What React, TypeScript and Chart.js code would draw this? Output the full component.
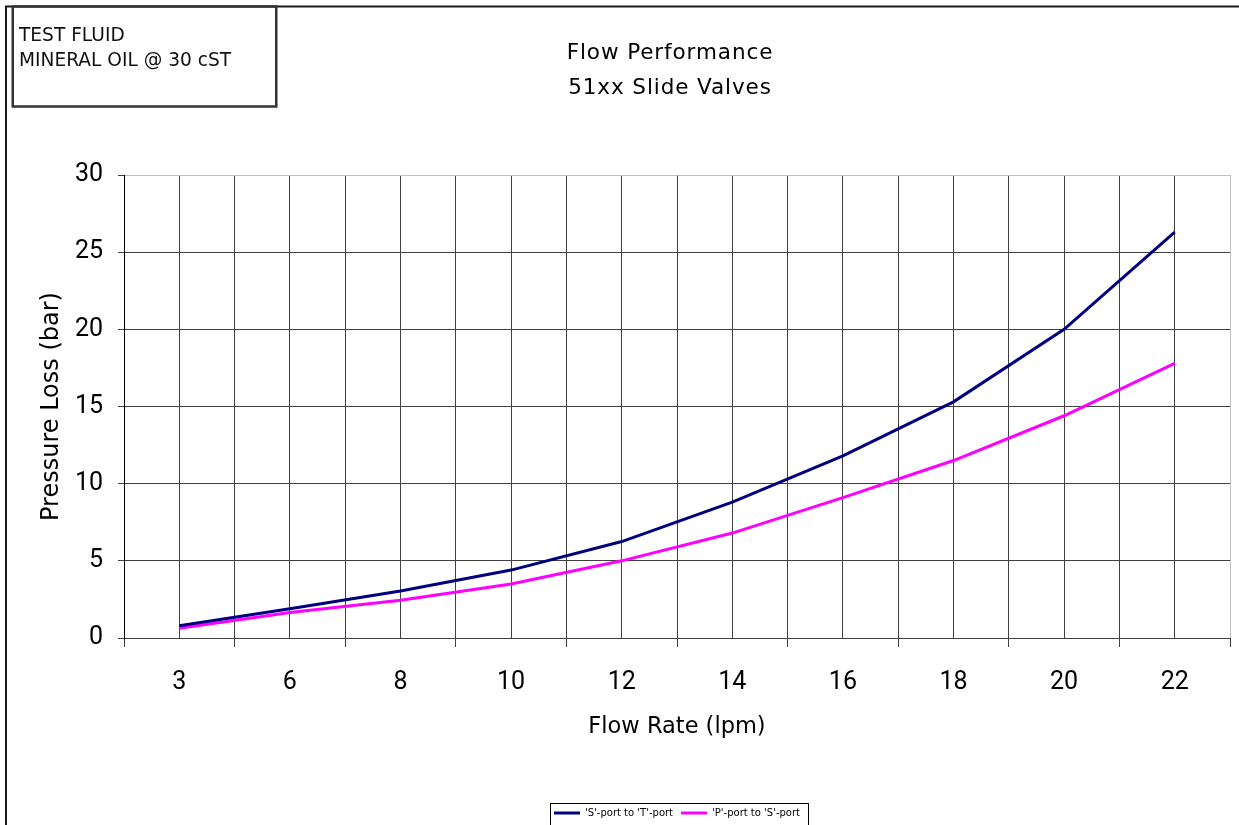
import React, { useEffect, useRef } from 'react';
import { Chart, registerables } from 'chart.js';

Chart.register(...registerables);

const flowRates = [3, 6, 8, 10, 12, 14, 16, 18, 20, 22];
const sToT = [0.8, 1.9, 3.05, 4.4, 6.25, 8.8, 11.8, 15.3, 20.0, 26.3];
const pToS = [0.63, 1.65, 2.45, 3.5, 5.0, 6.8, 9.1, 11.5, 14.4, 17.8];
const seriesLabels = ["'S'-port to 'T'-port", "'P'-port to 'S'-port"];
const titleLines = ['Flow Performance', '51xx Slide Valves'];
const noteLines = ['TEST FLUID', 'MINERAL OIL @ 30 cST'];
const xTitle = 'Flow Rate (lpm)';
const yTitle = 'Pressure Loss (bar)';

const TICKFONT = 'Roboto, "DejaVu Sans", sans-serif';
const TEXTFONT = '"DejaVu Sans", Roboto, sans-serif';
const W = 1239;
const H = 825;

const decor = {
  id: 'decor',
  beforeDraw(chart: any) {
    const ctx = chart.ctx;
    ctx.save();
    ctx.fillStyle = '#ffffff';
    ctx.fillRect(0, 0, chart.width, chart.height);
    ctx.restore();
  },
  afterDraw(chart: any) {
    const ctx = chart.ctx;
    ctx.save();
    // outer border (extends beyond the picture at right and bottom)
    ctx.strokeStyle = '#1a1a1a';
    ctx.lineWidth = 2;
    ctx.beginPath();
    ctx.moveTo(6, H + 10);
    ctx.lineTo(6, 6.5);
    ctx.lineTo(W + 10, 6.5);
    ctx.stroke();
    // note box
    ctx.strokeStyle = '#333333';
    ctx.lineWidth = 2.5;
    ctx.strokeRect(12.75, 6.5, 263.5, 100);
    ctx.fillStyle = '#111111';
    ctx.font = `18.6px ${TEXTFONT}`;
    ctx.textAlign = 'left';
    ctx.textBaseline = 'alphabetic';
    noteLines.forEach((t, i) => ctx.fillText(t, 19, 41 + i * 25));
    // title
    ctx.fillStyle = '#000000';
    ctx.font = `21.5px ${TEXTFONT}`;
    ctx.textAlign = 'center';
    try {
      (ctx as any).letterSpacing = '0.9px';
    } catch (e) {
      /* ignore */
    }
    titleLines.forEach((t, i) => ctx.fillText(t, 670, 59 + i * 35));
    try {
      (ctx as any).letterSpacing = '0px';
    } catch (e) {
      /* ignore */
    }
    // legend frame
    const lg = chart.legend;
    if (lg && lg.legendHitBoxes && lg.legendHitBoxes.length) {
      const hb = lg.legendHitBoxes;
      const l = hb[0].left - 4;
      const last = hb[hb.length - 1];
      const r = last.left + last.width + 8;
      const cy = hb[0].top + hb[0].height / 2;
      ctx.strokeStyle = '#000000';
      ctx.lineWidth = 1;
      ctx.strokeRect(Math.round(l) + 0.5, Math.round(cy - 10) + 0.5, Math.round(r - l), 40);
    }
    ctx.restore();
  },
};

export default function App() {
  const ref = useRef<HTMLCanvasElement | null>(null);

  useEffect(() => {
    if (!ref.current) return;
    const chart = new Chart(ref.current, {
      type: 'line',
      data: {
        datasets: [
          {
            label: seriesLabels[0],
            data: flowRates.map((_, i) => ({ x: i, y: sToT[i] })),
            borderColor: '#000080',
            backgroundColor: '#000080',
            borderWidth: 3,
            pointRadius: 0,
            tension: 0,
          },
          {
            label: seriesLabels[1],
            data: flowRates.map((_, i) => ({ x: i, y: pToS[i] })),
            borderColor: '#ff00ff',
            backgroundColor: '#ff00ff',
            borderWidth: 3,
            pointRadius: 0,
            tension: 0,
          },
        ],
      },
      options: {
        responsive: false,
        animation: false,
        devicePixelRatio: 1,
        layout: { padding: { top: 175, right: 9, bottom: -3, left: 0 } },
        plugins: {
          title: { display: false },
          tooltip: { enabled: false },
          legend: {
            position: 'bottom',
            fullSize: false,
            labels: {
              usePointStyle: true,
              pointStyle: 'line',
              pointStyleWidth: 26,
              padding: 8,
              color: '#000000',
              font: { family: TEXTFONT, size: 10 },
            },
          },
        },
        scales: {
          x: {
            type: 'linear',
            min: -0.5,
            max: 9.5,
            afterFit(s: any) {
              s.height = 162;
              s.paddingLeft = 0;
              s.paddingRight = 0;
            },
            ticks: {
              stepSize: 0.5,
              autoSkip: false,
              maxRotation: 0,
              padding: 21,
              color: '#000000',
              font: { family: TICKFONT, size: 25 },
              callback: (v: any) => (Number.isInteger(v) ? String(flowRates[v]) : ''),
            },
            grid: {
              color: (c: any) => (c.tick && c.tick.value === 9.5 ? '#c0c0c0' : '#404040'),
              lineWidth: 1,
              tickLength: 9,
              tickColor: (c: any) =>
                c.tick && Number.isInteger(c.tick.value) ? 'rgba(0,0,0,0)' : '#404040',
            },
            border: { color: '#404040', width: 1 },
            title: {
              display: true,
              text: xTitle,
              color: '#000000',
              font: { family: TEXTFONT, size: 22.5 },
              padding: { top: 0, bottom: 59 },
            },
          },
          y: {
            min: 0,
            max: 30,
            afterFit(s: any) {
              s.width = 124;
            },
            ticks: {
              stepSize: 5,
              padding: 15,
              color: '#000000',
              font: { family: TICKFONT, size: 25 },
            },
            grid: {
              color: (c: any) => (c.tick && c.tick.value === 30 ? '#c0c0c0' : '#404040'),
              lineWidth: 1,
              tickLength: 6,
              tickColor: '#404040',
            },
            border: { color: '#000000', width: 1 },
            title: {
              display: true,
              text: yTitle,
              color: '#000000',
              font: { family: TEXTFONT, size: 24 },
              padding: { top: 37, bottom: 0 },
            },
          },
        },
      },
      plugins: [decor],
    } as any);
    return () => chart.destroy();
  }, []);

  return (
    <canvas
      ref={ref}
      width={W}
      height={H}
      style={{ position: 'absolute', left: 0, top: 0, width: W, height: H }}
    />
  );
}
